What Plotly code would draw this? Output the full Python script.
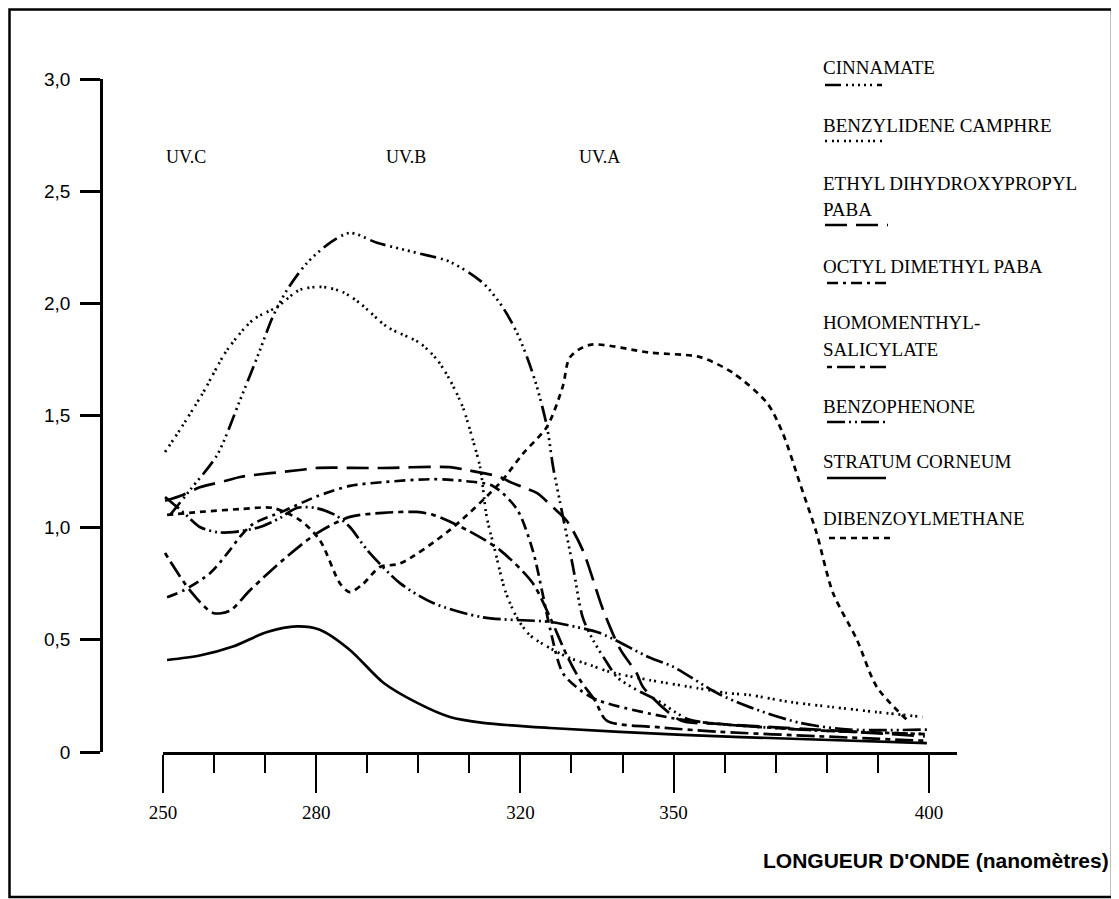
import plotly.graph_objects as go

# ---------------- data ----------------
wl_cinnamate = [251.4, 255.3, 260.6, 265.1, 269.0, 271.5, 274.3, 278.2, 282.7, 286.6, 291.9, 299.7, 306.2,
                312.7, 316.6, 319.3, 321.3, 323.2, 325.2, 326.4, 327.7, 330.3, 332.2, 334.2, 336.9, 338.9,
                342.8, 346.7, 350.6, 353.2, 375.0, 399.0]
ab_cinnamate = [1.057, 1.168, 1.324, 1.569, 1.792, 1.94, 2.06, 2.18, 2.27, 2.314, 2.27, 2.225, 2.185,
                2.09, 1.98, 1.87, 1.76, 1.63, 1.45, 1.27, 1.12, 0.825, 0.60, 0.50, 0.40, 0.334,
                0.276, 0.232, 0.174, 0.143, 0.10, 0.08]

wl_benzylidene = [250.4, 253.3, 257.8, 262.5, 267.6, 272.3, 276.8, 281.3, 285.2, 288.6, 293.9, 300.3, 303.7,
                  306.2, 308.7, 310.7, 312.1, 313.4, 315.0, 317.0, 319.3, 321.9, 329.1, 333.6, 337.5, 345.4,
                  354.6, 360.4, 364.9, 372.8, 381.2, 389.8, 398.8]
ab_benzylidene = [1.337, 1.436, 1.60, 1.79, 1.926, 1.984, 2.06, 2.073, 2.05, 2.0, 1.895, 1.823, 1.748,
                  1.658, 1.538, 1.39, 1.27, 1.048, 0.90, 0.72, 0.60, 0.52, 0.424, 0.388, 0.357, 0.32,
                  0.285, 0.263, 0.254, 0.223, 0.20, 0.178, 0.156]

wl_ethyl_paba = [250.4, 253.9, 257.2, 262.5, 265.1, 276.8, 280.0, 292.0, 306.2, 309.5, 316.0, 317.4, 320.5,
                 323.2, 326.4, 329.1, 332.2, 336.2, 339.5, 342.8, 344.0, 351.2, 359.0, 378.0, 399.2]
ab_ethyl_paba = [1.12, 1.146, 1.18, 1.21, 1.226, 1.257, 1.266, 1.266, 1.27, 1.257, 1.226, 1.21, 1.18,
                 1.155, 1.09, 1.03, 0.90, 0.633, 0.46, 0.35, 0.29, 0.143, 0.125, 0.10, 0.07]

wl_octyl_paba = [250.8, 254.0, 259.2, 263.1, 265.1, 267.6, 273.5, 280.2, 286.6, 293.1, 302.9, 309.5, 314.6,
                 319.3, 322.4, 324.4, 325.8, 328.3, 331.7, 335.0, 351.8, 375.0, 399.2]
ab_octyl_paba = [0.69, 0.72, 0.797, 0.90, 0.96, 1.016, 1.073, 1.14, 1.186, 1.203, 1.216, 1.207, 1.186,
                 1.083, 0.90, 0.70, 0.55, 0.352, 0.276, 0.232, 0.143, 0.10, 0.08]

wl_homomenthyl = [250.4, 255.3, 259.8, 263.1, 267.0, 273.5, 280.2, 286.6, 293.1, 299.7, 302.9, 309.5, 316.0,
                  322.4, 325.8, 329.1, 331.7, 334.6, 336.9, 347.3, 359.0, 378.6, 399.2]
ab_homomenthyl = [0.887, 0.72, 0.62, 0.63, 0.72, 0.856, 0.976, 1.048, 1.066, 1.07, 1.057, 0.99, 0.90,
                  0.753, 0.60, 0.43, 0.32, 0.23, 0.14, 0.11, 0.09, 0.07, 0.05]

wl_benzophenone = [250.4, 253.9, 257.2, 260.6, 263.7, 269.0, 272.9, 276.2, 279.8, 283.7, 286.6, 290.0, 296.4,
                   302.9, 312.7, 325.8, 331.0, 335.6, 345.4, 349.9, 358.5, 364.9, 374.7, 384.5, 399.6]
ab_benzophenone = [1.137, 1.07, 1.003, 0.98, 0.98, 1.003, 1.043, 1.088, 1.088, 1.057, 1.003, 0.90, 0.753,
                   0.664, 0.60, 0.58, 0.557, 0.53, 0.42, 0.38, 0.263, 0.20, 0.13, 0.10, 0.10]

wl_stratum = [250.8, 257.2, 263.7, 270.4, 276.2, 280.7, 286.6, 293.1, 299.7, 306.2, 312.7, 325.8, 351.8,
              374.7, 399.6]
ab_stratum = [0.41, 0.43, 0.47, 0.535, 0.56, 0.545, 0.455, 0.31, 0.22, 0.156, 0.13, 0.107, 0.076,
              0.058, 0.04]

wl_dibenzoyl = [250.8, 257.2, 265.1, 271.5, 276.8, 280.7, 284.7, 286.6, 289.2, 292.5, 296.4, 306.2, 316.0,
                320.5, 325.2, 328.3, 329.7, 333.6, 345.4, 355.2, 361.6, 368.3, 371.4, 374.7, 378.0, 381.2,
                385.9, 389.8, 395.7]
ab_dibenzoyl = [1.057, 1.07, 1.083, 1.088, 1.034, 0.945, 0.75, 0.713, 0.75, 0.825, 0.84, 0.99, 1.20,
                1.33, 1.45, 1.63, 1.76, 1.815, 1.78, 1.76, 1.69, 1.556, 1.42, 1.20, 0.976, 0.71,
                0.50, 0.29, 0.143]

x_major_ticks = [250, 280, 320, 350, 400]
x_minor_ticks = [260, 270, 290, 300, 310, 330, 340, 360, 370, 380, 390]
y_ticks = [0, 0.5, 1.0, 1.5, 2.0, 2.5, 3.0]
y_tick_text = ["0", "0,5", "1,0", "1,5", "2,0", "2,5", "3,0"]
uv_bands = ["UV.C", "UV.B", "UV.A"]
uv_band_x = [254.5, 297.5, 335.5]

legend_names = ["CINNAMATE", "BENZYLIDENE CAMPHRE", "ETHYL DIHYDROXYPROPYL<br>PABA", "OCTYL DIMETHYL PABA",
                "HOMOMENTHYL-<br>SALICYLATE", "BENZOPHENONE", "STRATUM CORNEUM", "DIBENZOYLMETHANE"]

# ---------------- styles ----------------
dash_cinn = "16px,5px,2px,4px,2px,4px,2px,4px,2px,4px,2px,5px"
dash_benzy = "2px,5px,2px,3px"
dash_ethyl = "22px,9px"
dash_octyl = "11px,5px,3px,5px"
dash_homo = "5px,5px,18px,5px"
dash_bzp = "18px,4px,2px,4px,2px,4px"
dash_strat = "solid"
dash_dbm = "6px,5px"

series = [
    (wl_cinnamate, ab_cinnamate, dash_cinn),
    (wl_benzylidene, ab_benzylidene, dash_benzy),
    (wl_ethyl_paba, ab_ethyl_paba, dash_ethyl),
    (wl_octyl_paba, ab_octyl_paba, dash_octyl),
    (wl_homomenthyl, ab_homomenthyl, dash_homo),
    (wl_benzophenone, ab_benzophenone, dash_bzp),
    (wl_stratum, ab_stratum, dash_strat),
    (wl_dibenzoyl, ab_dibenzoyl, dash_dbm),
]

# page has an 8px body margin: work in page pixels, convert to figure pixels
OFF = 8
W, H = 1119 - OFF, 899 - OFF
L = 101 - OFF          # y-axis line at page x=101
T = 79 - OFF           # y=3.0 at page y=79
R = W - (957 - OFF)    # x-axis line ends at page x=957
B = H - (752 - OFF)    # y=0 at page y=752
PW = W - L - R
PH = H - T - B


def px(x):
    return (x - OFF - L) / PW


def py(y):
    return (H - B - (y - OFF)) / PH


fig = go.Figure()
for (xs, ys, dash), name in zip(series, legend_names):
    fig.add_trace(go.Scatter(x=xs, y=ys, mode="lines", name=name.replace("<br>", " "),
                             line=dict(color="black", width=2.7, dash=dash, shape="spline", smoothing=0.8),
                             showlegend=False, hoverinfo="skip"))

serif = "Liberation Serif"
annotations = []
for txt, xv in zip(uv_bands, uv_band_x):
    annotations.append(dict(x=xv, y=py(157), xref="x", yref="paper", text=txt, showarrow=False,
                            font=dict(family=serif, size=18, color="black"), xanchor="center", yanchor="middle"))

# legend block: text lines and line samples
legend_text_y = [(67,), (126,), (183, 210), (266,), (322, 349), (406,), (461,), (518,)]
legend_sample_y = [85, 141, 225, 283, 367, 422, 478, 538]
legend_sample_x = [(825, 882), (825, 882), (825, 888), (827, 888), (827, 886), (827, 889), (827, 886), (829, 893)]
shapes = []
for name, ty, sy, (sx0, sx1), (_, _, dash) in zip(legend_names, legend_text_y, legend_sample_y,
                                                  legend_sample_x, series):
    parts = name.split("<br>")
    for part, yy in zip(parts, ty):
        annotations.append(dict(x=px(821), y=py(yy), xref="paper", yref="paper", text=part, showarrow=False,
                                font=dict(family=serif, size=19, color="black"),
                                xanchor="left", yanchor="middle"))
    shapes.append(dict(type="line", xref="paper", yref="paper", x0=px(sx0), x1=px(sx1), y0=py(sy), y1=py(sy),
                       line=dict(color="black", width=2.7, dash=dash)))

# x-axis title
annotations.append(dict(x=px(1111), y=py(860), xref="paper", yref="paper",
                        text="<b>LONGUEUR D'ONDE (nanomètres)</b>", showarrow=False,
                        font=dict(family="Liberation Sans", size=21, color="black"),
                        xanchor="right", yanchor="middle"))

# outer frame
shapes.append(dict(type="rect", xref="paper", yref="paper", x0=px(OFF + 1.5), x1=px(1112), y0=py(897),
                   y1=py(OFF + 1.5), line=dict(color="black", width=2.5), fillcolor="rgba(0,0,0,0)",
                   layer="below"))

fig.update_layout(
    width=W, height=H,
    margin=dict(l=L, r=R, t=T, b=B, pad=0),
    paper_bgcolor="white", plot_bgcolor="white",
    showlegend=False,
    xaxis=dict(domain=[px(163), 1], range=[250, 405.5], showgrid=False, zeroline=False,
               showline=True, linecolor="black", linewidth=2.5,
               tickmode="array", tickvals=x_major_ticks, ticktext=[str(v) for v in x_major_ticks],
               ticks="outside", ticklen=38, tickwidth=2, tickcolor="black",
               ticklabelstandoff=3,
               tickfont=dict(family=serif, size=19, color="black"),
               minor=dict(tickmode="array", tickvals=x_minor_ticks, ticks="outside", ticklen=18,
                          tickwidth=2, tickcolor="black", showgrid=False),
               fixedrange=True),
    yaxis=dict(anchor="free", position=0, range=[0, 3], showgrid=False, zeroline=False,
               showline=True, linecolor="black", linewidth=2.5,
               tickmode="array", tickvals=y_ticks, ticktext=y_tick_text,
               ticks="outside", ticklen=20, tickwidth=2.5, tickcolor="black",
               ticklabelstandoff=6,
               tickfont=dict(family="Liberation Sans", size=19, color="black"),
               fixedrange=True),
    annotations=annotations,
    shapes=shapes,
)

fig.write_html("out.html")
